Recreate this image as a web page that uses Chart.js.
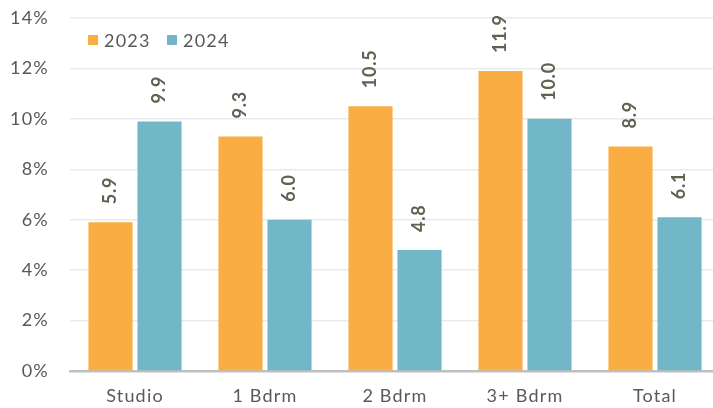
<!DOCTYPE html>
<html><head><meta charset="utf-8">
<script src="https://cdn.jsdelivr.net/npm/chart.js@4"></script>
<style>html,body{margin:0;padding:0;background:#fff;overflow:hidden}#w{width:720px;height:408px}</style>
</head><body><div id="w"><canvas id="c" width="720" height="408"></canvas></div>
<script>
const categories = ["Studio", "1 Bdrm", "2 Bdrm", "3+ Bdrm", "Total"];
const seriesNames = ["2023", "2024"];
const values2023 = [5.9, 9.3, 10.5, 11.9, 8.9];
const values2024 = [9.9, 6.0, 4.8, 10.0, 6.1];
const yTicks = [0, 2, 4, 6, 8, 10, 12, 14];
const colors = ["#F9AD42", "#72B7C8"];
const FONT = "Lato, 'Open Sans', sans-serif";

const spacingPlugin = {
  id: 'spacing',
  beforeDraw(chart) { chart.ctx.letterSpacing = "1.2px"; }
};

const labelPlugin = {
  id: 'barLabels',
  afterDatasetsDraw(chart) {
    const ctx = chart.ctx;
    ctx.save();
    ctx.letterSpacing = "0.8px";
    ctx.font = "bold 18px " + FONT;
    ctx.fillStyle = "#5E6250";
    ctx.textAlign = "left";
    ctx.textBaseline = "middle";
    chart.data.datasets.forEach((ds, i) => {
      chart.getDatasetMeta(i).data.forEach((bar, j) => {
        ctx.save();
        ctx.translate(bar.x, bar.y - 18);
        ctx.rotate(-Math.PI / 2);
        ctx.fillText(ds.data[j].toFixed(1), 0, 0);
        ctx.restore();
      });
    });
    ctx.restore();
  }
};

const legendPlugin = {
  id: 'inLegend',
  afterDraw(chart) {
    const ctx = chart.ctx;
    ctx.save();
    ctx.font = "18px " + FONT;
    ctx.letterSpacing = "1.2px";
    ctx.textBaseline = "middle";
    let x = 88;
    const y = 40;
    seriesNames.forEach((n, i) => {
      ctx.fillStyle = colors[i];
      ctx.fillRect(x, y - 5, 10, 10);
      ctx.fillStyle = "#595959";
      ctx.fillText(n, x + 16, y + 1);
      x += 79;
    });
    ctx.restore();
  }
};

new Chart(document.getElementById('c'), {
  type: 'bar',
  data: {
    labels: categories,
    datasets: [
      { label: seriesNames[0], data: values2023, backgroundColor: colors[0], categoryPercentage: 0.754, barPercentage: 0.9 },
      { label: seriesNames[1], data: values2024, backgroundColor: colors[1], categoryPercentage: 0.754, barPercentage: 0.9 }
    ]
  },
  options: {
    responsive: false,
    animation: false,
    layout: { padding: { top: 18, left: 0, right: 0, bottom: 0 } },
    plugins: { legend: { display: false }, tooltip: { enabled: false } },
    scales: {
      x: {
        grid: { display: false, drawTicks: false },
        border: { color: "#BFBFBF", width: 2.5 },
        ticks: { color: "#595959", font: { family: FONT, size: 18 }, padding: 14 },
        afterFit(s) { s.height = 37; }
      },
      y: {
        min: 0, max: 14,
        afterBuildTicks(s) { s.ticks = yTicks.map(v => ({ value: v })); },
        grid: { color: "#EAEAEA", lineWidth: 1.5, drawTicks: false },
        border: { display: false },
        ticks: { color: "#595959", font: { family: FONT, size: 18 }, padding: 21, callback: v => v + "%" },
        afterFit(s) { s.width = 70; s.paddingTop = 0; s.paddingBottom = 0; }
      }
    }
  },
  plugins: [spacingPlugin, labelPlugin, legendPlugin]
});
</script></body></html>
